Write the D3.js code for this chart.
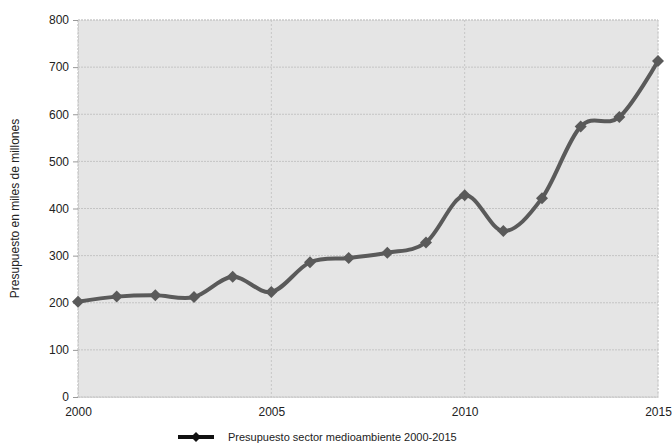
<!DOCTYPE html>
<html>
<head>
<meta charset="utf-8">
<script src="https://cdn.jsdelivr.net/npm/d3@7"></script>
<style>
  html, body { margin: 0; padding: 0; background: #fff; }
  svg { display: block; }
  text { font-family: "Liberation Sans", Arial, sans-serif; fill: #222; }
</style>
</head>
<body>
<svg id="chart" width="672" height="448"></svg>
<script>
// Environmental sector budget, 2000-2015 (thousands of millions)
const years = [2000, 2001, 2002, 2003, 2004, 2005, 2006, 2007, 2008, 2009, 2010, 2011, 2012, 2013, 2014, 2015];
const budget = [202, 213, 216, 212, 255, 223, 286, 295, 306, 328, 428, 352, 422, 574, 594, 713];
const xTicks = [2000, 2005, 2010, 2015];
const yTicks = [0, 100, 200, 300, 400, 500, 600, 700, 800];
const seriesName = "Presupuesto sector medioambiente 2000-2015";
const yTitle = "Presupuesto en miles de millones";

const svg = d3.select("#chart");
const margin = { left: 78, right: 14, top: 20, bottom: 51 };
const W = 672, H = 448;

const x = d3.scaleLinear().domain([2000, 2015]).range([margin.left, W - margin.right]);
const y = d3.scaleLinear().domain([0, 800]).range([H - margin.bottom, margin.top]);

// plot background
svg.append("rect")
  .attr("x", x(2000)).attr("y", y(800))
  .attr("width", x(2015) - x(2000)).attr("height", y(0) - y(800))
  .attr("fill", "#e5e5e5")
  .attr("stroke", "#d2d2d2").attr("stroke-dasharray", "2,1");

// horizontal gridlines
svg.append("g").selectAll("line").data(yTicks).join("line")
  .attr("x1", x(2000)).attr("x2", x(2015))
  .attr("y1", d => y(d)).attr("y2", d => y(d))
  .attr("stroke", "#c4c4c4").attr("stroke-width", 1).attr("stroke-dasharray", "2,1");

// vertical gridlines
svg.append("g").selectAll("line").data(xTicks).join("line")
  .attr("x1", d => x(d)).attr("x2", d => x(d))
  .attr("y1", y(800)).attr("y2", y(0))
  .attr("stroke", "#c6c6c6").attr("stroke-width", 1).attr("stroke-dasharray", "2,2");

// y axis
const yAxis = svg.append("g")
  .attr("transform", `translate(${x(2000)},0)`)
  .call(d3.axisLeft(y).tickValues(yTicks).tickSize(5).tickPadding(4));
yAxis.select(".domain").attr("stroke", "#cccccc").attr("stroke-dasharray", "2,1");
yAxis.selectAll(".tick line").attr("stroke", "#999");
yAxis.selectAll(".tick text").attr("font-size", 12).attr("fill", "#222")
  .attr("font-family", "Liberation Sans, Arial, sans-serif");

// x axis
const xAxis = svg.append("g")
  .attr("transform", `translate(0,${y(0)})`)
  .call(d3.axisBottom(x).tickValues(xTicks).tickFormat(d3.format("d")).tickSize(0).tickPadding(10));
xAxis.select(".domain").attr("stroke", "#cccccc").attr("stroke-dasharray", "2,1");
xAxis.selectAll(".tick text").attr("font-size", 12).attr("fill", "#222")
  .attr("font-family", "Liberation Sans, Arial, sans-serif");

// y title
svg.append("text")
  .attr("transform", `translate(19,${(y(0) + y(800)) / 2}) rotate(-90)`)
  .attr("text-anchor", "middle")
  .attr("font-size", 12)
  .text(yTitle);

// series line
const lineColor = "#5a5a5a";
const line = d3.line()
  .x((d, i) => x(years[i]))
  .y(d => y(d))
  .curve(d3.curveCardinal.tension(0));
svg.append("path")
  .datum(budget)
  .attr("d", line)
  .attr("fill", "none")
  .attr("stroke", lineColor)
  .attr("stroke-width", 4)
  .attr("stroke-linejoin", "round");

// diamond markers (square rotated 45°)
const r = 6;
const diamondPath = `M0,${-r}L${r},0L0,${r}L${-r},0Z`;
svg.append("g").selectAll("path").data(budget).join("path")
  .attr("d", diamondPath)
  .attr("transform", (d, i) => `translate(${x(years[i])},${y(d)})`)
  .attr("fill", lineColor);

// legend
const lg = svg.append("g").attr("transform", "translate(178,437)");
lg.append("line").attr("x1", 0).attr("x2", 36).attr("y1", 0).attr("y2", 0)
  .attr("stroke", "#111").attr("stroke-width", 4);
lg.append("path").attr("d", `M0,-5L5,0L0,5L-5,0Z`).attr("transform", "translate(18,0)").attr("fill", "#111");
lg.append("text").attr("x", 50).attr("y", 4).attr("font-size", 11).text(seriesName);
</script>
</body>
</html>
